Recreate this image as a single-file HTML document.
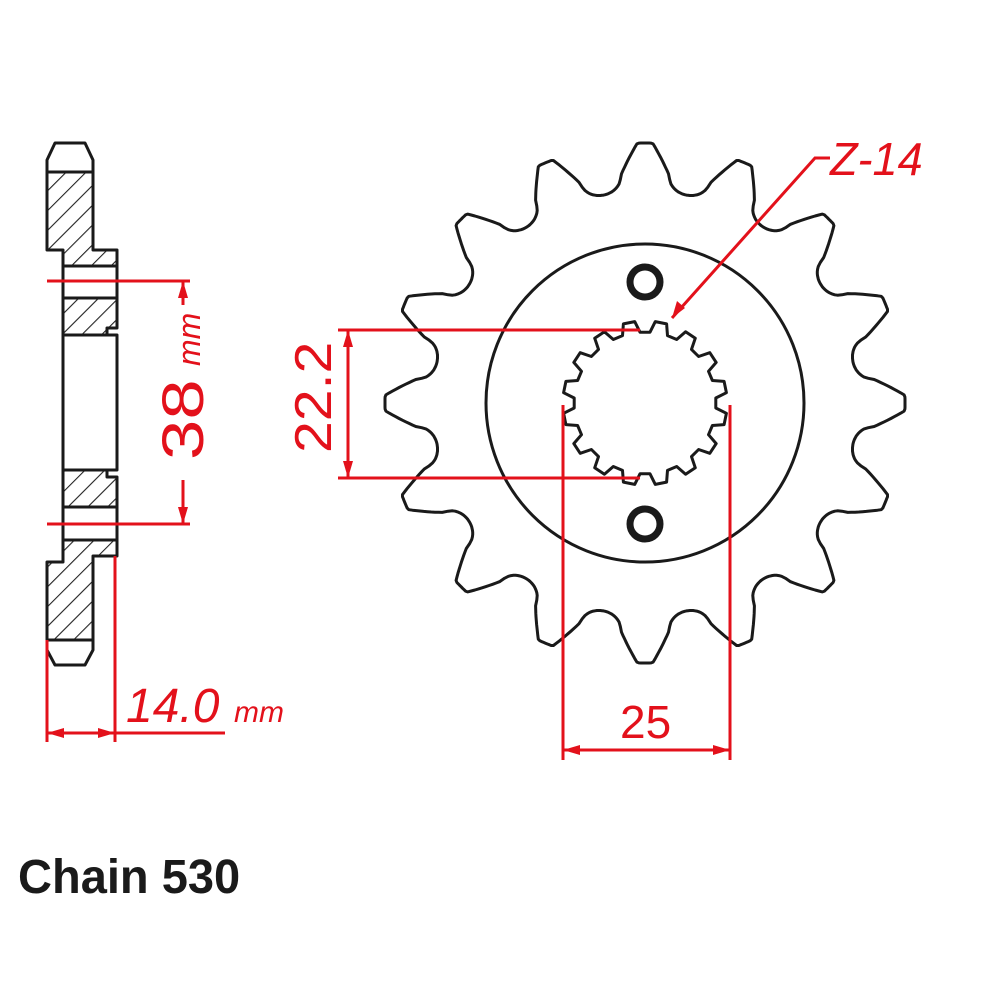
<!DOCTYPE html>
<html><head><meta charset="utf-8"><style>
html,body{margin:0;padding:0;background:#fff;}
svg{display:block}
text{font-family:"Liberation Sans",sans-serif;}
</style></head><body>
<svg id="s" width="1000" height="1000" viewBox="0 0 1000 1000" xmlns="http://www.w3.org/2000/svg">
<defs>
<pattern id="h" patternUnits="userSpaceOnUse" width="14" height="14" patternTransform="rotate(45)">
<rect width="14" height="14" fill="#fff"/><line x1="0" y1="0" x2="0" y2="14" stroke="#222" stroke-width="2.2"/>
</pattern>
</defs>
<g stroke="#1a1a1a" stroke-width="3" fill="none" stroke-linejoin="round">
<path d="M55,143 L85,143 L93,160 L93,172 L47,172 L47,160 Z" fill="#fff"/>
<path d="M47,172 L93,172 L93,250 L117,250 L117,266 L63,266 L63,250 L47,250 Z" fill="url(#h)"/>
<rect x="63" y="266" width="54" height="32" fill="#fff"/>
<path d="M63,298 L117,298 L117,328 L107,328 L107,335 L63,335 Z" fill="url(#h)"/>
<rect x="63" y="335" width="54" height="135" fill="#fff"/>
<path d="M63,470 L107,470 L107,477 L117,477 L117,507 L63,507 Z" fill="url(#h)"/>
<rect x="63" y="507" width="54" height="33" fill="#fff"/>
<path d="M63,540 L117,540 L117,556 L93,556 L93,640 L47,640 L47,562 L63,562 Z" fill="url(#h)"/>
<path d="M47,640 L93,640 L93,650 L85,665 L55,665 L47,650 Z" fill="#fff"/>
<path id="sp" fill="#fff"/>
<circle cx="645" cy="403" r="159"/>
<circle cx="645" cy="282" r="15" stroke-width="7"/>
<circle cx="645" cy="524" r="15" stroke-width="7"/>
<path id="spl" fill="#fff"/>
</g>
<g stroke="#e3111b" stroke-width="3" fill="none">
<line x1="47" y1="281" x2="190" y2="281"/><line x1="47" y1="524" x2="190" y2="524"/>
<line x1="183" y1="281" x2="183" y2="305"/><line x1="183" y1="480" x2="183" y2="524"/>
<line x1="47" y1="640" x2="47" y2="742"/><line x1="115" y1="556" x2="115" y2="742"/>
<line x1="47" y1="733" x2="225" y2="733"/>
<line x1="338" y1="330" x2="640" y2="330"/><line x1="338" y1="478" x2="640" y2="478"/>
<line x1="348" y1="330" x2="348" y2="478"/>
<line x1="563" y1="405" x2="563" y2="760"/><line x1="730" y1="405" x2="730" y2="760"/>
<line x1="563" y1="750" x2="730" y2="750"/>
<polyline points="672,318 815,158 830,158"/>
</g>
<g fill="#e3111b">
<polygon points="183,281 178,298 188,298"/><polygon points="183,524 178,507 188,507"/>
<polygon points="47,733 64,728 64,738"/><polygon points="115,733 98,728 98,738"/>
<polygon points="348,330 343,347 353,347"/><polygon points="348,478 343,461 353,461"/>
<polygon points="563,750 580,745 580,755"/><polygon points="730,750 713,745 713,755"/>
<polygon points="672,318 677,301 685,308"/>
<text font-size="58" transform="translate(203,460) rotate(-90) scale(1.25,1)">38</text>
<text font-size="32" font-style="italic" transform="translate(200,366) rotate(-90)">mm</text>
<text x="126" y="722" font-size="48" font-style="italic">14.0</text>
<text x="234" y="722" font-size="30" font-style="italic">mm</text>
<text font-size="52" transform="translate(331,453) rotate(-90) scale(1.1,1)">22.2</text>
<text x="620" y="738" font-size="46">25</text>
<text font-size="46" font-style="italic" transform="translate(830,175) scale(0.98,1)">Z-14</text>
</g>
<text font-size="48" font-weight="bold" fill="#1a1a1a" transform="translate(18,893) scale(0.98,1)">Chain 530</text>
</svg>
<script>
(function(){
var cx=645,cy=403;
function P(r,a){return (cx+r*Math.cos(a)).toFixed(1)+","+(cy-r*Math.sin(a)).toFixed(1);}
var N=16,Rt=260,Rr=212,s=2*Math.PI/N,pts=[];
function rad(phi){
 var u=Math.abs(phi)/(s/2);
 if(u<0.15) return Rt;
 if(u<0.55) return Rt-(Rt-Rr-16)*(u-0.15)/0.40;
 var w=(1-u)/0.45; return Rr+16*(1-Math.sqrt(Math.max(0,1-w*w)));
}
var K=800;
for(var k=0;k<K;k++){
 var th=Math.PI/2+k*2*Math.PI/K;
 var rel=th-Math.PI/2; rel=((rel% s)+s)%s; if(rel>s/2) rel-=s;
 pts.push(P(rad(rel),th));
}
document.getElementById("sp").setAttribute("d","M"+pts.join(" L")+" Z");
var M=16,Ro=82,Ri=71,q=[];
for(var j=0;j<M;j++){
 var b=Math.PI/2+Math.PI/M+j*2*Math.PI/M, t=2*Math.PI/M;
 q.push(P(Ri,b-t*0.32),P(Ro,b-t*0.18),P(Ro,b+t*0.18),P(Ri,b+t*0.32));
}
document.getElementById("spl").setAttribute("d","M"+q.join(" L")+" Z");
})();
</script>
</body></html>
